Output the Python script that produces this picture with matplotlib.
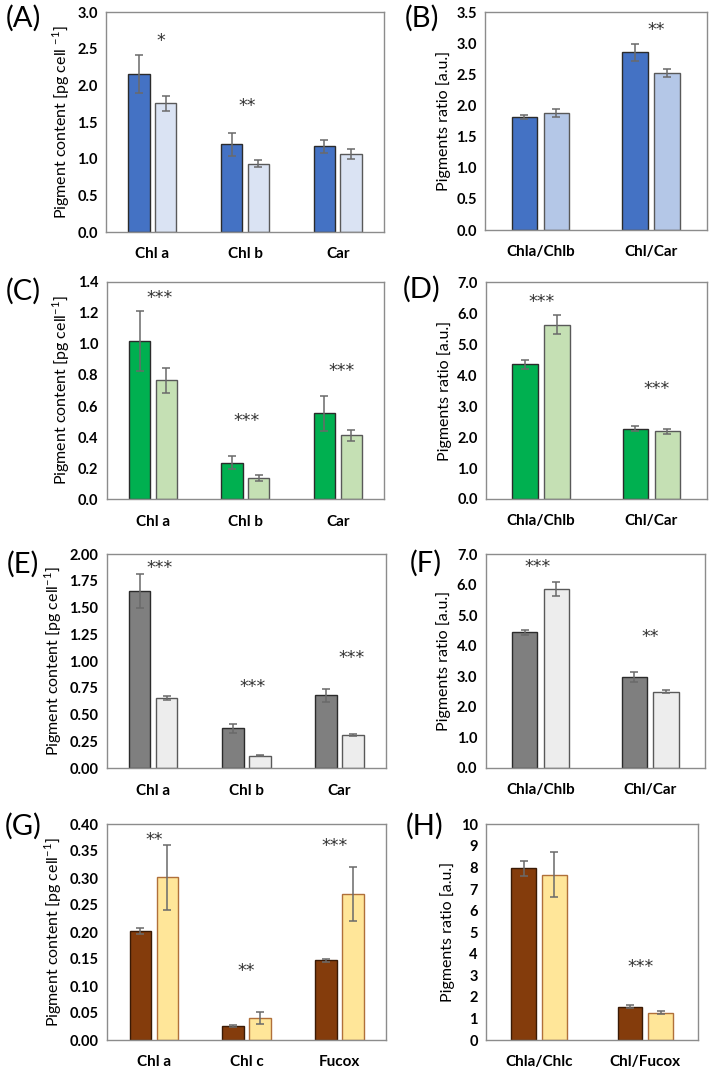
import matplotlib.pyplot as plt
import matplotlib.transforms as mtransforms
import numpy as np

plt.rcParams['font.family'] = ['Lato', 'DejaVu Sans']
plt.rcParams['mathtext.fontset'] = 'custom'
plt.rcParams['mathtext.rm'] = 'Lato'

W, H = 709, 1072

# ---- data ----
pig_cats = ['Chl a', 'Chl b', 'Car']
ratio_cats = ['Chla/Chlb', 'Chl/Car']
pig_cats_g = ['Chl a', 'Chl c', 'Fucox']
ratio_cats_h = ['Chla/Chlc', 'Chl/Fucox']

a_dark = [2.16, 1.195, 1.168]
a_dark_err = [0.26, 0.155, 0.09]
a_light = [1.755, 0.932, 1.064]
a_light_err = [0.105, 0.045, 0.068]
a_stars = [(0, 0.09, 2.69, '*'), (1, 0.02, 1.80, '**')]

b_dark = [1.822, 2.856]
b_dark_err = [0.03, 0.14]
b_light = [1.881, 2.53]
b_light_err = [0.06, 0.065]
b_stars = [(1, 0.05, 3.30, '**')]

c_dark = [1.02, 0.236, 0.553]
c_dark_err = [0.193, 0.043, 0.111]
c_light = [0.765, 0.137, 0.412]
c_light_err = [0.078, 0.02, 0.037]
c_stars = [(0, 0.07, 1.33, '***'), (1, 0.01, 0.538, '***'), (2, 0.04, 0.86, '***')]

d_dark = [4.36, 2.27]
d_dark_err = [0.145, 0.075]
d_light = [5.63, 2.186]
d_light_err = [0.30, 0.08]
d_stars = [(0, 0.0, 6.54, '***'), (1, 0.05, 3.74, '***')]

e_dark = [1.655, 0.373, 0.681]
e_dark_err = [0.155, 0.043, 0.06]
e_light = [0.659, 0.118, 0.311]
e_light_err = [0.02, 0.007, 0.01]
e_stars = [(0, 0.07, 1.92, '***'), (1, 0.07, 0.81, '***'), (2, 0.13, 1.08, '***')]

f_dark = [4.434, 2.98]
f_dark_err = [0.087, 0.16]
f_light = [5.853, 2.49]
f_light_err = [0.22, 0.055]
f_stars = [(0, -0.03, 6.75, '***'), (1, 0.0, 4.46, '**')]

g_dark = [0.2019, 0.0259, 0.1475]
g_dark_err = [0.006, 0.002, 0.003]
g_light = [0.301, 0.040, 0.2698]
g_light_err = [0.061, 0.011, 0.05]
g_stars = [(0, 0.0, 0.381, '**'), (1, 0.0, 0.138, '**'), (2, -0.05, 0.370, '***')]

h_dark = [7.96, 1.546]
h_dark_err = [0.35, 0.06]
h_light = [7.67, 1.267]
h_light_err = [1.06, 0.08]
h_stars = [(1, -0.04, 3.63, '***')]

pig_label = 'Pigment content [pg cell $^{-1}$]'
pig_label2 = 'Pigment content [pg cell$^{-1}$]'
ratio_label = 'Pigments ratio [a.u.]'

# colours per row: dark, light, dark edge, light edge
blue = ('#4472C4', '#DAE3F3', '#2B2B2B', '#595959')
blue_b = ('#4472C4', '#B4C7E7', '#2B2B2B', '#595959')
green = ('#00B050', '#C5E0B4', '#2B2B2B', '#595959')
grey = ('#7F7F7F', '#EDEDED', '#2B2B2B', '#595959')
brown = ('#843C0C', '#FFE699', '#3A1A05', '#B0703A')

fig = plt.figure(figsize=(W / 100, H / 100), dpi=100)


def box(l, r, t, b):
    return [l / W, 1 - b / H, (r - l) / W, (b - t) / H]


def panel(rect, cats, dark, dark_err, light, light_err, cols, ymax, step, fmt,
          ylabel, stars, tag, tag_xy):
    ax = fig.add_axes(rect)
    x = np.arange(len(cats))
    bw = 0.23
    gap = 0.06
    ekw = dict(ecolor='#6A6A6A', elinewidth=1.1, capsize=3, capthick=1.1)
    ax.bar(x - (bw + gap) / 2, dark, bw, yerr=dark_err, color=cols[0],
           edgecolor=cols[2], linewidth=1.0, error_kw=ekw)
    ax.bar(x + (bw + gap) / 2, light, bw, yerr=light_err, color=cols[1],
           edgecolor=cols[3], linewidth=1.0, error_kw=ekw)
    ax.set_xlim(-0.5, len(cats) - 0.5)
    ax.set_ylim(0, ymax)
    ticks = np.arange(0, ymax + step / 2, step)
    ax.set_yticks(ticks)
    ax.set_yticklabels([fmt.format(t) for t in ticks], fontweight='bold',
                       fontsize=10.5)
    ax.set_xticks(x)
    ax.set_xticklabels(cats, fontweight='bold', fontsize=11)
    ax.tick_params(axis='both', length=0)
    ax.tick_params(axis='x', pad=11)
    ax.tick_params(axis='y', pad=6)
    for s in ax.spines.values():
        s.set_color('#8C8C8C')
        s.set_linewidth(1.0)
    ax.set_ylabel(ylabel, fontsize=11.5, labelpad=4)
    # DejaVu asterisks sit high above the baseline, pull them down to centre
    star_tr = mtransforms.offset_copy(ax.transData, fig=fig, y=-10.5,
                                      units='dots')
    for ci, off, yv, txt in stars:
        ax.text(ci + off, yv, txt, ha='center', va='baseline', fontsize=12.5,
                color='#333333', family='DejaVu Sans', transform=star_tr)
    fig.text(tag_xy[0] / W, 1 - tag_xy[1] / H, tag, fontsize=21,
             ha='center', va='center')
    return ax


panel(box(106, 384, 12.3, 232), pig_cats, a_dark, a_dark_err, a_light,
      a_light_err, blue, 3.0, 0.5, '{:.1f}', pig_label, a_stars, '(A)', (23, 18))
panel(box(485, 706.5, 12.3, 230), ratio_cats, b_dark, b_dark_err, b_light,
      b_light_err, blue_b, 3.5, 0.5, '{:.1f}', ratio_label, b_stars, '(B)', (422, 18))
panel(box(106.7, 384, 281.7, 499.3), pig_cats, c_dark, c_dark_err, c_light,
      c_light_err, green, 1.4, 0.2, '{:.1f}', pig_label2, c_stars, '(C)', (23, 291))
panel(box(486, 706.5, 282.3, 499), ratio_cats, d_dark, d_dark_err, d_light,
      d_light_err, green, 7.0, 1.0, '{:.1f}', ratio_label, d_stars, '(D)', (422, 289))
panel(box(106.7, 386, 554, 768.3), pig_cats, e_dark, e_dark_err, e_light,
      e_light_err, grey, 2.0, 0.25, '{:.2f}', pig_label2, e_stars, '(E)', (23, 564))
panel(box(485.7, 705, 554, 767.7), ratio_cats, f_dark, f_dark_err, f_light,
      f_light_err, grey, 7.0, 1.0, '{:.1f}', ratio_label, f_stars, '(F)', (426, 563))
panel(box(107.3, 386, 824, 1040), pig_cats_g, g_dark, g_dark_err, g_light,
      g_light_err, brown, 0.40, 0.05, '{:.2f}', pig_label2, g_stars, '(G)', (23, 826))
panel(box(486, 698.3, 824.3, 1040), ratio_cats_h, h_dark, h_dark_err, h_light,
      h_light_err, brown, 10, 1, '{:.0f}', ratio_label, h_stars, '(H)', (425, 826))

fig.savefig('out.png', dpi=100)
